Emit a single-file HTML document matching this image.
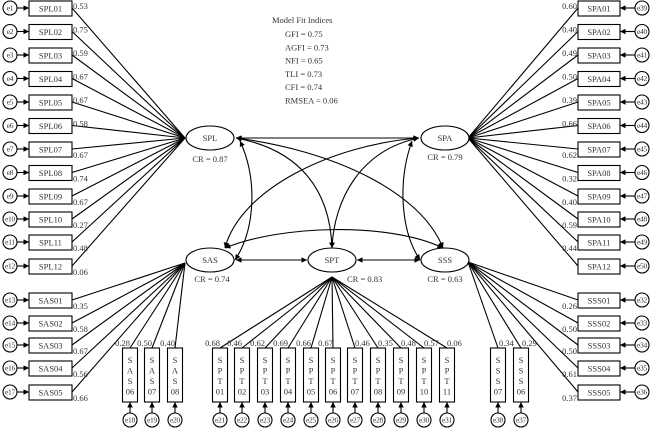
<!DOCTYPE html>
<html><head><meta charset="utf-8"><style>
html,body{margin:0;padding:0;background:#fff}
svg{display:block}
text{font-family:"Liberation Serif",serif;font-size:8.5px;fill:#333}
text.e{font-size:7.5px;letter-spacing:-0.3px}
</style></head><body>
<svg width="650" height="429" viewBox="0 0 650 429" xmlns="http://www.w3.org/2000/svg">
<defs>
<marker id="a" viewBox="0 0 10 10" refX="10" refY="5" markerWidth="5" markerHeight="5" orient="auto-start-reverse"><path d="M0,0L10,5L0,10z" fill="#000"/></marker>
</defs>
<g id="g" stroke="#000" fill="none" stroke-width="1.1"></g>
<g id="t"></g>
</svg>
<script>
const g=document.getElementById('g'),t=document.getElementById('t');
const NS='http://www.w3.org/2000/svg';
function el(p,tag,at,txt){const e=document.createElementNS(NS,tag);for(const k in at)e.setAttribute(k,at[k]);if(txt!==undefined)e.textContent=txt;p.appendChild(e);return e;}
function line(x1,y1,x2,y2,m,s){const a={x1,y1,x2,y2};if(m)a['marker-end']='url(#a)';if(s)a['marker-start']='url(#a)';el(g,'line',a);}
function path(d,m,s){const a={d};if(m)a['marker-end']='url(#a)';if(s)a['marker-start']='url(#a)';el(g,'path',a);}
function txt(x,y,s,anchor,cls){const a={x,y,'text-anchor':anchor||'start'};if(cls)a['class']=cls;el(t,'text',a,s);}
function circ(x,y,lab){el(g,'circle',{cx:x,cy:y,r:7,fill:'#fff'});txt(x,y+2.7,lab,'middle','e');}
function box(x,y,w,h,lab){el(g,'rect',{x,y,width:w,height:h});txt(x+w/2,y+h/2+3,lab,'middle');}
const rows=[8,31.5,55,78.5,102,125.5,149,172.5,196,219,242,266];
const spl=['0.53','0.75','0.59','0.67','0.67','0.58','0.67','0.74','0.67','0.27','0.48','0.06'];
const spa=['0.60','0.40','0.49','0.50','0.39','0.66','0.62','0.32','0.40','0.59','0.44',''];
rows.forEach((y,i)=>{
 const n=String(i+1).padStart(2,'0');
 box(29,y-7,43,15,'SPL'+n);circ(10,y,'e'+(i+1));line(17,y,29,y,1);
 line(72,y,185,138);txt(73,i<6?y+1:y+9,spl[i]);
 box(578,y-7,42,15,'SPA'+n);circ(642,y,'e'+(39+i));line(635,y,620,y,1);
 line(578,y,468,138);txt(577,i<6?y+1:y+9,spa[i],'end');
});
const srows=[300,323,345,368,392];
const sas=['0.35','0.58','0.67','0.56','0.66'],sss=['0.26','0.50','0.50','0.61','0.37'];
srows.forEach((y,i)=>{
 const n=String(i+1).padStart(2,'0');
 box(29,y-7,43,15,'SAS'+n);circ(10,y,'e'+(13+i));line(17,y,29,y,1);
 line(72,y,185,263);txt(73,y+9,sas[i]);
 box(578,y-7,42,15,'SSS'+n);circ(642,y,'e'+(32+i));line(635,y,620,y,1);
 line(578,y,468,262);txt(577,y+9,sss[i],'end');
});
function vbox(cx,a,b,c,d){el(g,'rect',{x:cx-7.5,y:348,width:15,height:54});[a,b,c,d].forEach((s,k)=>txt(cx,363+k*10.5,s,'middle'));}
const vs=[[130,'S','A','S','06','0.28','e18'],[152,'S','A','S','07','0.50','e19'],[175,'S','A','S','08','0.40','e20']];
vs.forEach(v=>{vbox(v[0],v[1],v[2],v[3],v[4]);line(v[0],348,185,263);txt(v[0],346,v[5],'end');circ(v[0],420,v[6]);line(v[0],413,v[0],402,1);});
const spt=['0.68','0.46','0.62','0.69','0.66','0.67','0.46','0.35','0.48','0.57','0.06'];
const sx=[220,242,265,288,311,333,355,378,401,424,447];
sx.forEach((x,i)=>{const n=String(i+1).padStart(2,'0');vbox(x,'S','P','T',n);line(x,348,332,277);txt(x,346,spt[i],i<6?'end':'start');circ(x,420,'e'+(21+i));line(x,413,x,402,1);});
[[498,'07','0.34','e38'],[521,'06','0.29','e37']].forEach(v=>{vbox(v[0],'S','S','S',v[1]);line(v[0],348,468,262);txt(v[0]+1,346,v[2]);circ(v[0],420,v[3]);line(v[0],413,v[0],402,1);});
[[210,138,'SPL'],[445,138,'SPA'],[210,260,'SAS'],[332,260,'SPT'],[445,260,'SSS']].forEach(l=>{el(g,'ellipse',{cx:l[0],cy:l[1],rx:24,ry:12,fill:'#fff'});txt(l[0],l[1]+3,l[2],'middle');});
txt(210,162,'CR = 0.87','middle');txt(445,160,'CR = 0.79','middle');txt(212,282,'CR = 0.74','middle');txt(347,282,'CR = 0.83');txt(445,282,'CR = 0.63','middle');
line(236,138,419,138,1,1);
path('M236,138 C300,150 330,190 332,248',1,1);
path('M236,138 C330,150 420,190 443,248',1,1);
path('M419,138 C330,145 240,190 225,248',1,1);
path('M419,138 C360,150 334,200 332,248',1,1);
path('M240,141 C258,180 255,230 235,260',1,1);
path('M412,141 C398,180 400,230 420,260',1,1);
path('M225,248 C280,225 390,222 443,248',1,1);
line(236,260,307,260,1,1);line(357,260,420,260,1,1);
txt(272,23,'Model Fit Indices');
['GFI = 0.75','AGFI = 0.73','NFI = 0.65','TLI = 0.73','CFI = 0.74','RMSEA = 0.06'].forEach((s,i)=>txt(285,37+i*13.3,s));
</script>
</body></html>
